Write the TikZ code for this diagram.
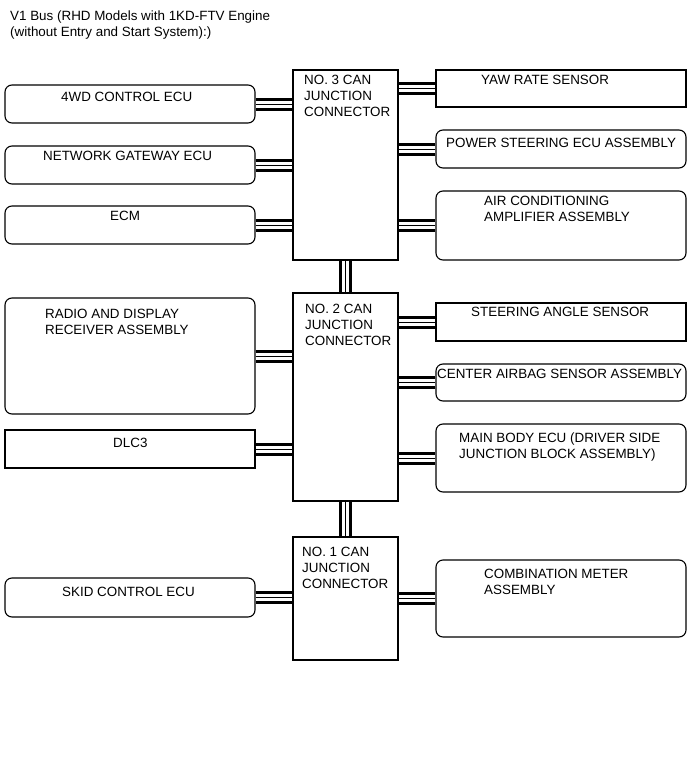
\documentclass[tikz,border=0pt]{standalone}
\usepackage{fontspec}
\setmainfont{Liberation Sans}
\begin{document}
\begin{tikzpicture}[x=1bp,y=-1bp,
  every node/.style={font=\fontsize{13.4bp}{16bp}\selectfont},
  box/.style={draw=black, line width=1.1bp, rectangle, inner sep=0pt, minimum width=250bp, minimum height=38bp},
  rbox/.style={box, rounded corners=7bp},
  jbox/.style={box, minimum width=105bp},
  txt/.style={anchor=north west, inner sep=0pt, align=left},
  bus/.style={draw=black, line width=13bp,
    postaction={draw=white, line width=7bp},
    postaction={draw=black, line width=0.8bp}}]
\useasboundingbox (0,0) rectangle (690,757);
% title
\node[txt] (title) at (10,10.5) {V1 Bus (RHD Models with 1KD-FTV Engine\\(without Entry and Start System):)};
% left boxes
\node[rbox] (ecu4wd) at (130,104) {};
\node[rbox] (gateway) at (130,165) {};
\node[rbox] (ecm) at (130,225) {};
\node[rbox, minimum height=116bp] (radio) at (130,356) {};
\node[box] (dlc) at (130,449) {};
\node[rbox, minimum height=39bp] (skid) at (130,597.5) {};
% junction connectors
\node[jbox, minimum height=190bp] (j3) at (345.5,165) {};
\node[jbox, minimum height=208bp] (j2) at (345.5,397) {};
\node[jbox, minimum height=123bp] (j1) at (345.5,598.5) {};
% right boxes
\node[box, minimum height=37bp] (yaw) at (561,88.5) {};
\node[rbox] (pseps) at (561,149) {};
\node[rbox, minimum height=69bp] (aircon) at (561,225.5) {};
\node[box] (steer) at (561,322) {};
\node[rbox, minimum height=37bp] (airbag) at (561,382.5) {};
\node[rbox, minimum height=68bp] (mainbody) at (561,458) {};
\node[rbox, minimum height=77bp] (meter) at (561,598.5) {};
% texts
\node[txt] (t4wd) at (61,92) {4WD CONTROL ECU};
\node[txt] (tgw) at (43,151) {NETWORK GATEWAY ECU};
\node[txt] (tecm) at (110,211) {ECM};
\node[txt] (tradio) at (45,309) {RADIO AND DISPLAY\\RECEIVER ASSEMBLY};
\node[txt] (tdlc) at (113,438) {DLC3};
\node[txt] (tskid) at (62,587) {SKID CONTROL ECU};
\node[txt] (tj3) at (304,75) {NO. 3 CAN\\JUNCTION\\CONNECTOR};
\node[txt] (tj2) at (305,304) {NO. 2 CAN\\JUNCTION\\CONNECTOR};
\node[txt] (tj1) at (302,547) {NO. 1 CAN\\JUNCTION\\CONNECTOR};
\node[txt] (tyaw) at (481,75) {YAW RATE SENSOR};
\node[txt] (tps) at (446,138) {POWER STEERING ECU ASSEMBLY};
\node[txt] (tair) at (484,196) {AIR CONDITIONING\\AMPLIFIER ASSEMBLY};
\node[txt] (tsteer) at (471,307) {STEERING ANGLE SENSOR};
\node[txt] (tbag) at (437,369) {CENTER AIRBAG SENSOR ASSEMBLY};
\node[txt] (tmain) at (459,433) {MAIN BODY ECU (DRIVER SIDE\\JUNCTION BLOCK ASSEMBLY)};
\node[txt] (tmeter) at (484,569) {COMBINATION METER\\ASSEMBLY};
% connectors
\draw[bus] (ecu4wd.east) -- (ecu4wd.east -| j3.west);
\draw[bus] (gateway.east) -- (gateway.east -| j3.west);
\draw[bus] (ecm.east) -- (ecm.east -| j3.west);
\draw[bus] (radio.east) -- (radio.east -| j2.west);
\draw[bus] (dlc.east) -- (dlc.east -| j2.west);
\draw[bus] (skid.east) -- (skid.east -| j1.west);
\draw[bus] (yaw.west) -- (yaw.west -| j3.east);
\draw[bus] (pseps.west) -- (pseps.west -| j3.east);
\draw[bus] (aircon.west) -- (aircon.west -| j3.east);
\draw[bus] (steer.west) -- (steer.west -| j2.east);
\draw[bus] (airbag.west) -- (airbag.west -| j2.east);
\draw[bus] (mainbody.west) -- (mainbody.west -| j2.east);
\draw[bus] (meter.west) -- (meter.west -| j1.east);
\draw[bus] (j3.south) -- (j2.north);
\draw[bus] (j2.south) -- (j1.north);
\end{tikzpicture}
\end{document}
